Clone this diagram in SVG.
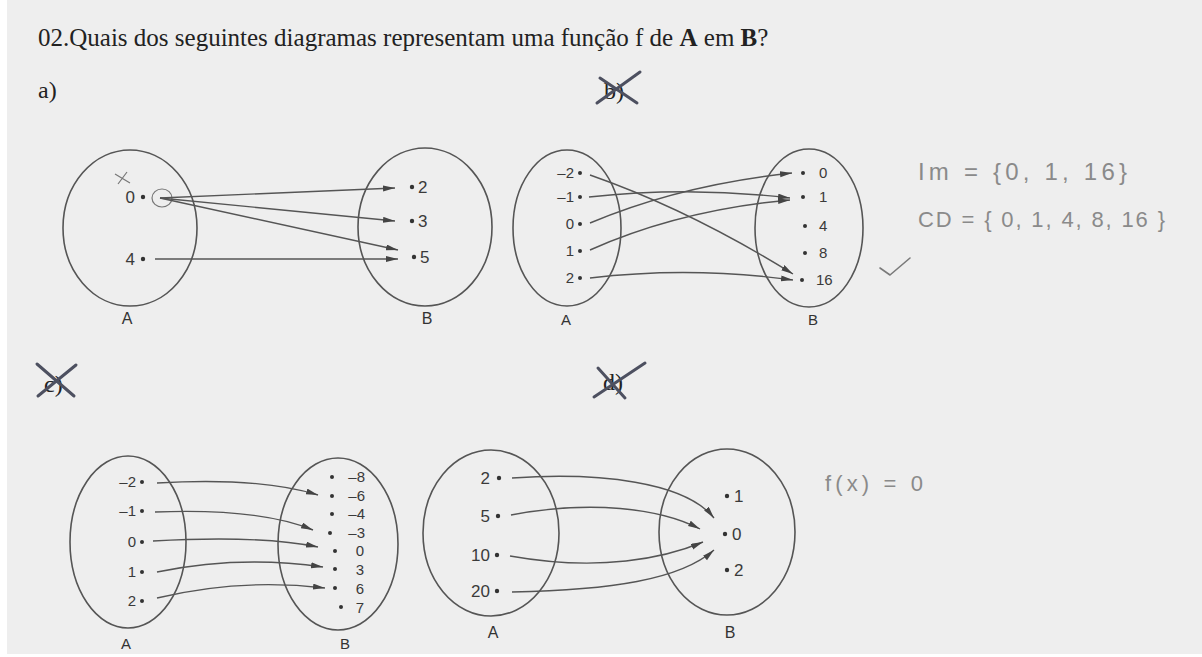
<svg xmlns="http://www.w3.org/2000/svg" width="1202" height="657" viewBox="0 0 1202 657">
<style>
.set{fill:none;stroke:#555;stroke-width:1.6}
.lbl{font-family:"Liberation Sans",Arial,sans-serif;fill:#333}
.t{font-family:"Liberation Sans",Arial,sans-serif;fill:#3a3a3a}
.dot{fill:#333}
.arr{fill:none;stroke:#555;stroke-width:1.4;marker-end:url(#ah)}
.hand{font-family:"Liberation Sans",Arial,sans-serif;fill:#8a8a8a}
.cross{stroke:#4d5060;stroke-width:3;stroke-linecap:round;fill:none}
.serif{font-family:"Liberation Serif","Times New Roman",serif;fill:#222}
</style>
<defs>
<marker id="ah" markerUnits="userSpaceOnUse" markerWidth="13" markerHeight="8" refX="12" refY="3" orient="auto">
<path d="M0,0 L12,3 L0,6 Z" fill="#444"/>
</marker>
</defs>
<rect x="0" y="0" width="1202" height="657" fill="#ffffff"/>
<rect x="7" y="0" width="1195" height="654" fill="#eeeeee"/>

<text class="serif" x="38" y="46" font-size="25">02.Quais dos seguintes diagramas representam uma função f de <tspan font-weight="bold">A</tspan> em <tspan font-weight="bold">B</tspan>?</text>

<!-- a) -->
<g id="diagram-a">
<text class="serif" x="38" y="98" font-size="24">a)</text>
<g id="a-setA">
<ellipse class="set" cx="130" cy="228" rx="67" ry="78"/>
<path d="M115,174 L130,183 M118,184 L127,172" stroke="#777" stroke-width="1.2" fill="none"/>
<text class="t" x="135" y="203" font-size="17" text-anchor="end">0</text>
<circle class="dot" cx="143" cy="197" r="2.2"/>
<ellipse cx="162" cy="198" rx="10" ry="9" fill="none" stroke="#777" stroke-width="1.2"/>
<text class="t" x="135" y="265" font-size="17" text-anchor="end">4</text>
<circle class="dot" cx="143" cy="259" r="2.2"/>
<text class="lbl" x="127" y="324" font-size="16" text-anchor="middle">A</text>
</g>
<g id="a-setB">
<ellipse class="set" cx="425" cy="227" rx="67" ry="79"/>
<circle class="dot" cx="412" cy="187" r="2.2"/><text class="t" x="418" y="193" font-size="17">2</text>
<circle class="dot" cx="412" cy="221" r="2.2"/><text class="t" x="418" y="227" font-size="17">3</text>
<circle class="dot" cx="414" cy="257" r="2.2"/><text class="t" x="420" y="263" font-size="17">5</text>
<text class="lbl" x="427" y="324" font-size="16" text-anchor="middle">B</text>
</g>
</g>

<!-- b) -->
<g id="diagram-b">
<text class="serif" x="604" y="99" font-size="24">b)</text>
<path class="cross" d="M597,103 L640,72 M600,78 L637,103"/>
<g id="b-setA">
<ellipse class="set" cx="567" cy="228" rx="54" ry="78"/>
<g class="t" font-size="15" text-anchor="end">
<text x="574" y="178">–2</text><text x="574" y="202">–1</text><text x="574" y="229">0</text><text x="574" y="256">1</text><text x="574" y="283">2</text>
</g>
<circle class="dot" cx="580" cy="173" r="2"/><circle class="dot" cx="580" cy="197" r="2"/><circle class="dot" cx="580" cy="224" r="2"/><circle class="dot" cx="580" cy="251" r="2"/><circle class="dot" cx="580" cy="278" r="2"/>
<text class="lbl" x="566" y="325" font-size="15" text-anchor="middle">A</text>
</g>
<g id="b-setB">
<ellipse class="set" cx="809" cy="228" rx="54" ry="79"/>
<circle class="dot" cx="803" cy="173" r="2"/><circle class="dot" cx="803" cy="197" r="2"/><circle class="dot" cx="805" cy="226" r="2"/><circle class="dot" cx="805" cy="253" r="2"/><circle class="dot" cx="802" cy="280" r="2"/>
<g class="t" font-size="15">
<text x="819" y="178">0</text><text x="819" y="202">1</text><text x="819" y="231">4</text><text x="819" y="258">8</text><text x="816" y="285">16</text>
</g>
<text class="lbl" x="813" y="325" font-size="15" text-anchor="middle">B</text>
</g>
<text class="hand" x="918" y="180" font-size="24" textLength="209" lengthAdjust="spacing">Im = {0, 1, 16}</text>
<text class="hand" x="918" y="227" font-size="22" textLength="247" lengthAdjust="spacing">CD = { 0, 1, 4, 8, 16 }</text>
<path d="M880,268 L890,275 L910,258" fill="none" stroke="#7a7a7a" stroke-width="1.6" stroke-linecap="round" stroke-linejoin="round"/>
</g>

<!-- c) -->
<g id="diagram-c">
<text class="serif" x="44" y="392" font-size="24">c)</text>
<path class="cross" d="M37,364 L74,396 M38,396 L76,365"/>
<g id="c-setA">
<ellipse class="set" cx="128" cy="542" rx="58" ry="86"/>
<g class="t" font-size="15" text-anchor="end">
<text x="136" y="487">–2</text><text x="136" y="516">–1</text><text x="136" y="547">0</text><text x="136" y="577">1</text><text x="136" y="606">2</text>
</g>
<circle class="dot" cx="142" cy="482" r="2"/><circle class="dot" cx="142" cy="511" r="2"/><circle class="dot" cx="142" cy="542" r="2"/><circle class="dot" cx="142" cy="572" r="2"/><circle class="dot" cx="142" cy="601" r="2"/>
<text class="lbl" x="126" y="649" font-size="15" text-anchor="middle">A</text>
</g>
<g id="c-setB">
<ellipse class="set" cx="338" cy="544" rx="60" ry="86"/>
<circle class="dot" cx="332" cy="477" r="2"/><circle class="dot" cx="332" cy="496" r="2"/><circle class="dot" cx="332" cy="514" r="2"/><circle class="dot" cx="330" cy="533" r="2"/><circle class="dot" cx="335" cy="551" r="2"/><circle class="dot" cx="335" cy="569" r="2"/><circle class="dot" cx="335" cy="588" r="2"/><circle class="dot" cx="341" cy="607" r="2"/>
<g class="t" font-size="15" text-anchor="end">
<text x="365" y="482">–8</text><text x="365" y="501">–6</text><text x="365" y="519">–4</text><text x="365" y="538">–3</text><text x="364" y="556">0</text><text x="364" y="575">3</text><text x="364" y="594">6</text><text x="364" y="613">7</text>
</g>
<text class="lbl" x="345" y="649" font-size="15" text-anchor="middle">B</text>
</g>
</g>

<!-- d) -->
<g id="diagram-d">
<text class="serif" x="603" y="390" font-size="24">d)</text>
<path class="cross" d="M594,397 L645,363 M598,368 L625,398" stroke="#5d5f86"/>
<g id="d-setA">
<ellipse class="set" cx="491" cy="533" rx="68" ry="83"/>
<g class="t" font-size="17" text-anchor="end">
<text x="490" y="484">2</text><text x="490" y="522">5</text><text x="490" y="561">10</text><text x="490" y="597">20</text>
</g>
<circle class="dot" cx="499" cy="478" r="2.2"/><circle class="dot" cx="498" cy="516" r="2.2"/><circle class="dot" cx="497" cy="555" r="2.2"/><circle class="dot" cx="497" cy="591" r="2.2"/>
<text class="lbl" x="493" y="638" font-size="16" text-anchor="middle">A</text>
</g>
<g id="d-setB">
<ellipse class="set" cx="727" cy="532" rx="68" ry="83"/>
<circle class="dot" cx="727" cy="496" r="2.2"/><text class="t" x="734" y="502" font-size="17">1</text>
<circle class="dot" cx="725" cy="534" r="2.2"/><text class="t" x="732" y="540" font-size="17">0</text>
<circle class="dot" cx="727" cy="570" r="2.2"/><text class="t" x="734" y="576" font-size="17">2</text>
<text class="lbl" x="730" y="638" font-size="16" text-anchor="middle">B</text>
</g>
<text class="hand" x="825" y="491" font-size="22" textLength="98" lengthAdjust="spacing">f(x) = 0</text>
</g>

<g id="connectors">
<path class="arr" d="M160,198 L395,188"/>
<path class="arr" d="M160,198 L395,221"/>
<path class="arr" d="M160,198 L398,250"/>
<path class="arr" d="M155,259 L398,259"/>

<path class="arr" d="M590,175 Q690,210 793,274"/>
<path class="arr" d="M589,197 Q690,186 790,198"/>
<path class="arr" d="M590,223 Q680,185 792,173"/>
<path class="arr" d="M590,250 Q680,210 790,200"/>
<path class="arr" d="M590,278 Q690,266 793,280"/>

<path class="arr" d="M157,483 Q260,477 318,495"/>
<path class="arr" d="M155,512 Q260,508 313,530"/>
<path class="arr" d="M153,541 Q260,535 318,547"/>
<path class="arr" d="M157,572 Q240,555 323,567"/>
<path class="arr" d="M157,598 Q240,578 325,588"/>

<path class="arr" d="M512,478 C600,472 685,482 714,518"/>
<path class="arr" d="M511,515 C590,500 660,508 700,529"/>
<path class="arr" d="M510,556 C600,572 665,558 703,542"/>
<path class="arr" d="M512,592 C610,590 680,580 714,550"/>
</g>
</svg>
